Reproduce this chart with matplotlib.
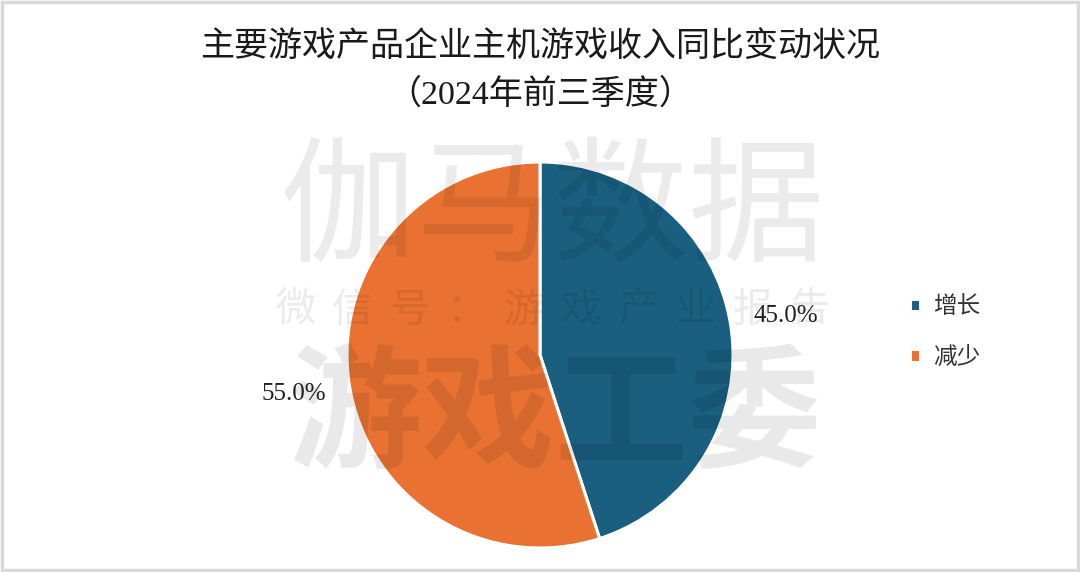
import numpy as np
import matplotlib
matplotlib.use("Agg")
import matplotlib.pyplot as plt
from matplotlib.patches import Rectangle

plt.rcParams['font.family'] = ['Noto Sans CJK SC', 'DejaVu Sans']

# données
labels = ['增长', '减少']
values = [45.0, 55.0]
colors = ['#1a5e80', '#e97132']
title = '主要游戏产品企业主机游戏收入同比变动状况\n（2024年前三季度）'

W, H = 1080, 572
fig = plt.figure(figsize=(W / 100, H / 100), dpi=100)
fig.patch.set_facecolor('white')

# cadre gris clair autour de l'image
fig.patches.append(Rectangle((0.0015, 0.003), 0.997, 0.994, transform=fig.transFigure,
                             fill=False, edgecolor='#d9d9d9', linewidth=2.5))

# camembert : centre (540, 355) px, rayon ~193 px
cx, cy, r = 540, 355, 193
ax = fig.add_axes([(cx - r) / W, (H - cy - r) / H, 2 * r / W, 2 * r / H])
wedges, texts, autotexts = ax.pie(
    values, colors=colors, startangle=90, counterclock=False,
    autopct='%.1f%%', pctdistance=1.29,
    wedgeprops=dict(edgecolor='white', linewidth=2.2),
    textprops=dict(fontsize=18, family=['Liberation Serif', 'Noto Sans CJK SC'], color='#222222'))
ax.set_aspect('equal')
ax.set_xlim(-1, 1)
ax.set_ylim(-1, 1)

# titre
fig.text(0.5, 1 - 71 / H, title, ha='center', va='center', fontsize=24.5,
         linespacing=1.6, color='#1a1a1a',
         family=['Liberation Serif', 'Noto Sans CJK SC'])

# légende
leg = fig.legend(wedges, labels, loc='center left', bbox_to_anchor=(898 / W, 1 - 332 / H),
                 frameon=False, fontsize=17, handlelength=0.45, handleheight=0.45,
                 handletextpad=0.55, labelspacing=1.15, borderpad=0)
for t in leg.get_texts():
    t.set_color('#333333')

# filigrane
wm = dict(color='black', alpha=0.08, ha='center', va='center', zorder=10)
fig.text(552 / W, 1 - 212 / H, '伽马数据', fontsize=98, fontweight='light', **wm)
chars = '微信号：游戏产业报告'
xs = np.linspace(295, 810, len(chars))
for x, c in zip(xs, chars):
    fig.text(x / W, 1 - 310 / H, c, fontsize=29, fontweight='light', **wm)
fig.text(555 / W, 1 - 418 / H, '游戏工委', fontsize=96, fontweight='bold',
         color='black', alpha=0.085, ha='center', va='center', zorder=10)

fig.savefig('out.png', dpi=100)
